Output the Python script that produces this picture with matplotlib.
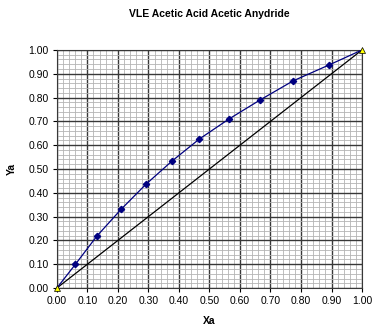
import matplotlib
matplotlib.use("Agg")
import matplotlib.pyplot as plt
import numpy as np
from matplotlib.ticker import MultipleLocator

plt.rcParams['font.family'] = ['Liberation Sans', 'DejaVu Sans']

xa = [0.0, 0.061, 0.131, 0.21, 0.292, 0.377, 0.467, 0.564, 0.666, 0.774, 0.892, 1.0]
ya = [0.0, 0.10, 0.218, 0.33, 0.436, 0.533, 0.626, 0.71, 0.79, 0.87, 0.937, 1.0]
diag_x = [0.0, 1.0]
diag_y = [0.0, 1.0]
ticks = np.round(np.arange(0, 1.01, 0.1), 2)

fig = plt.figure(figsize=(3.74, 3.33), dpi=100)
ax = fig.add_axes([0.152, 0.135, 0.816, 0.715])

ax.set_xlim(0, 1)
ax.set_ylim(0, 1)
ax.xaxis.set_minor_locator(MultipleLocator(0.02))
ax.yaxis.set_minor_locator(MultipleLocator(0.02))
ax.grid(which='minor', color='#b4b4b4', linewidth=0.6)
ax.grid(which='major', color='#383838', linewidth=1.0)
ax.set_axisbelow(True)
ax.set_xticks(ticks)
ax.set_yticks(ticks)
ax.set_xticklabels([f"{t:.2f}" for t in ticks])
ax.set_yticklabels([f"{t:.2f}" for t in ticks])
ax.tick_params(which='major', labelsize=7.5, length=3, width=0.8, pad=3)
ax.tick_params(which='minor', length=0)

ax.plot(diag_x, diag_y, color='black', linewidth=0.9, zorder=3)
ax.plot(xa[1:-1], ya[1:-1], color='#000080', linewidth=0.9, marker='D', markersize=3.2,
        markerfacecolor='#000080', markeredgecolor='#000080', zorder=4)
ax.plot(xa[:2], ya[:2], color='#000080', linewidth=0.9, zorder=4)
ax.plot(xa[-2:], ya[-2:], color='#000080', linewidth=0.9, zorder=4)
ax.plot(diag_x, diag_y, linestyle='none', marker='^', markersize=4.5,
        markerfacecolor='#ffff00', markeredgecolor='black', markeredgewidth=0.5,
        zorder=5, clip_on=False)

for s in ax.spines.values():
    s.set_color('#383838')
    s.set_linewidth(0.8)

ax.set_xlabel('Xa', fontsize=7.5, fontweight='bold', labelpad=7)
ax.set_ylabel('Ya', fontsize=7.5, fontweight='bold', labelpad=8)
fig.text(0.56, 0.958, 'VLE Acetic Acid Acetic Anydride', ha='center', va='center',
         fontsize=7.5, fontweight='bold')

fig.savefig('out.png', dpi=100)
